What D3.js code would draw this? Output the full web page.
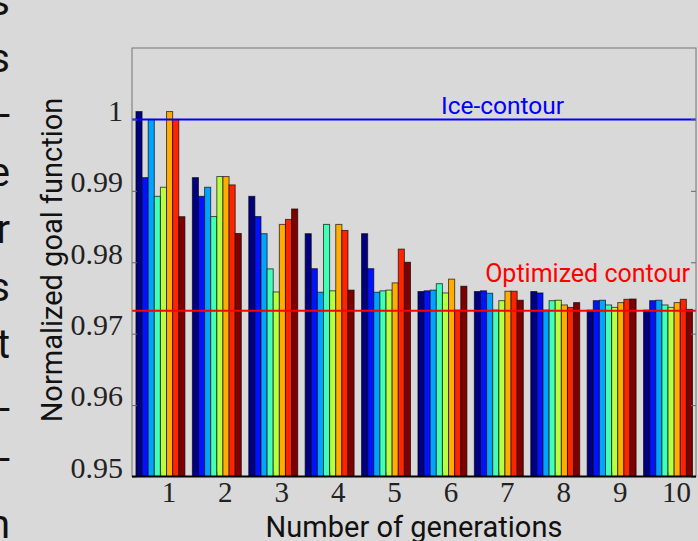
<!DOCTYPE html>
<html>
<head>
<meta charset="utf-8">
<script src="https://cdn.jsdelivr.net/npm/d3@7"></script>
<style>
    body { margin: 0; background: #d9d9d9; overflow: hidden; }
</style>
</head>
<body>
<div id="canvas"></div>
<script>
"use strict";

/* -------------------- Data -------------------- */

let generations = [1, 2, 3, 4, 5, 6, 7, 8, 9, 10];

/* one array per run, value for each generation */
let run1 = [1.0011, 0.99185, 0.98923, 0.9840, 0.9840, 0.9759, 0.9759, 0.9759, 0.9733, 0.9733];
let run2 = [0.99185, 0.98923, 0.9864, 0.9791, 0.9791, 0.9760, 0.9760, 0.9757, 0.97462, 0.97462];
let run3 = [1.0000, 0.9905, 0.9840, 0.9758, 0.9758, 0.9761, 0.97566, 0.9733, 0.97468, 0.97468];
let run4 = [0.98923, 0.9864, 0.97907, 0.9853, 0.9760, 0.9770, 0.9733, 0.97462, 0.97402, 0.97402];
let run5 = [0.9905, 0.9920, 0.97584, 0.9760, 0.9761, 0.9757, 0.97462, 0.97468, 0.97368, 0.97368];
let run6 = [1.0011, 0.9920, 0.9853, 0.9853, 0.97711, 0.97763, 0.97594, 0.97402, 0.97435, 0.97435];
let run7 = [1.0000, 0.99083, 0.9860, 0.98445, 0.98184, 0.9733, 0.97594, 0.97368, 0.97481, 0.97481];
let run8 = [0.98638, 0.98403, 0.98746, 0.9761, 0.9800, 0.97664, 0.97468, 0.97435, 0.97485, 0.9734];
let runs = [run1, run2, run3, run4, run5, run6, run7, run8];

let runColors = ["#000080", "#0012ff", "#00a4ff", "#41ffb6", "#b6ff41", "#ffad00", "#ff2400", "#800000"];

let yTicks = [0.95, 0.96, 0.97, 0.98, 0.99, 1];

let iceValue = 1.0;
let optimizedValue = 0.9732;

/* fragments of the page text to the left of the figure */
let sideLetters = ["s", "s", "-", "e", "r", "s", "t", "-", "-", "n"];
let sideBaselines = [15, 72, 128, 186, 243, 301, 358, 422, 472, 538];

/* -------------------- Layout -------------------- */

let svgWidth = 698;
let svgHeight = 541;
let plotLeft = 132;
let plotRight = 696;
let plotTop = 48;
let plotBottom = 476.5;

let barWidth = 0.1085;
let groupOffset = 0.07;

let svg = d3.select("#canvas")
    .append("svg")
    .attr("width", svgWidth)
    .attr("height", svgHeight)
    .style("display", "block");

svg.append("rect")
    .attr("width", svgWidth)
    .attr("height", svgHeight)
    .attr("fill", "#d9d9d9");

/* -------------------- Scales -------------------- */

let xScale = d3.scaleLinear()
    .domain([0, 10])
    .range([plotLeft, plotRight]);

let yScale = d3.scaleLinear()
    .domain([0.95, 1.01])
    .range([plotBottom, plotTop]);

/* -------------------- Side text -------------------- */

svg.selectAll("text.side")
    .data(sideLetters)
    .join("text")
    .attr("class", "side")
    .attr("x", 10)
    .attr("y", function (d, i) { return sideBaselines[i]; })
    .attr("text-anchor", "end")
    .attr("font-family", "Roboto, sans-serif")
    .attr("font-size", 40)
    .attr("fill", "#111")
    .text(function (d) { return d; });

/* -------------------- Bars -------------------- */

let plot = svg.append("g");

runs.forEach(function (run, k) {
    plot.selectAll("rect.run" + k)
        .data(run)
        .join("rect")
        .attr("class", "run" + k)
        .attr("x", function (d, g) {
            return xScale(g + groupOffset + k * barWidth);
        })
        .attr("y", function (d) { return yScale(d); })
        .attr("width", xScale(barWidth) - xScale(0))
        .attr("height", function (d) { return yScale(0.95) - yScale(d); })
        .attr("fill", runColors[k])
        .attr("stroke", "#000")
        .attr("stroke-opacity", 0.65)
        .attr("stroke-width", 1);
});

/* -------------------- Reference lines -------------------- */

svg.append("line")
    .attr("x1", plotLeft)
    .attr("x2", plotRight)
    .attr("y1", yScale(iceValue))
    .attr("y2", yScale(iceValue))
    .attr("stroke", "#0000ff")
    .attr("stroke-width", 2);

svg.append("line")
    .attr("x1", plotLeft)
    .attr("x2", plotRight)
    .attr("y1", yScale(optimizedValue))
    .attr("y2", yScale(optimizedValue))
    .attr("stroke", "#ff0000")
    .attr("stroke-width", 2);

svg.append("text")
    .attr("x", 441)
    .attr("y", yScale(iceValue) - 5)
    .attr("font-family", "Roboto, sans-serif")
    .attr("font-size", 24.5)
    .attr("fill", "#0000ff")
    .text("Ice-contour");

svg.append("text")
    .attr("x", 690)
    .attr("y", yScale(optimizedValue) - 29)
    .attr("text-anchor", "end")
    .attr("font-family", "Roboto, sans-serif")
    .attr("font-size", 25)
    .attr("fill", "#ff0000")
    .text("Optimized contour");

/* -------------------- Axes -------------------- */

let yAxis = d3.axisLeft(yScale)
    .tickValues(yTicks)
    .tickSize(-5)
    .tickPadding(9)
    .tickFormat(function (d) { return d === 1 ? "1" : d.toFixed(2); });

let yAxisG = svg.append("g")
    .attr("transform", "translate(" + plotLeft + ",0)")
    .call(yAxis);

yAxisG.select(".domain").remove();
yAxisG.selectAll("line").attr("stroke", "#666");
yAxisG.selectAll("text")
    .attr("dy", "0.03em")
    .attr("font-family", "'Liberation Serif', serif")
    .attr("font-size", 30)
    .attr("fill", "#222");

let yAxisRight = d3.axisRight(yScale)
    .tickValues(yTicks)
    .tickSize(-5)
    .tickFormat("");

let yAxisRightG = svg.append("g")
    .attr("transform", "translate(" + plotRight + ",0)")
    .call(yAxisRight);

yAxisRightG.select(".domain").remove();
yAxisRightG.selectAll("line").attr("stroke", "#666");

let xAxis = d3.axisBottom(xScale)
    .tickValues(generations.map(function (g) { return g - 1 + groupOffset + 4 * barWidth; }))
    .tickSize(-5)
    .tickPadding(5)
    .tickFormat(function (d, i) { return String(generations[i]); });

let xAxisG = svg.append("g")
    .attr("transform", "translate(0," + plotBottom + ")")
    .call(xAxis);

xAxisG.select(".domain").remove();
xAxisG.selectAll("line").attr("stroke", "#666").attr("stroke-opacity", 0.5);
xAxisG.selectAll("text")
    .attr("dx", 8)
    .attr("dy", "0.7em")
    .attr("font-family", "'Liberation Serif', serif")
    .attr("font-size", 29)
    .attr("fill", "#222");

/* -------------------- Frame -------------------- */

svg.append("rect")
    .attr("x", plotLeft)
    .attr("y", plotTop)
    .attr("width", plotRight - plotLeft)
    .attr("height", plotBottom - plotTop)
    .attr("fill", "none")
    .attr("stroke", "#777")
    .attr("stroke-width", 1);

svg.append("line")
    .attr("x1", plotLeft)
    .attr("x2", plotRight)
    .attr("y1", plotBottom)
    .attr("y2", plotBottom)
    .attr("stroke", "#000")
    .attr("stroke-width", 2);

/* -------------------- Axis labels -------------------- */

svg.append("text")
    .attr("x", 414)
    .attr("y", 537)
    .attr("text-anchor", "middle")
    .attr("font-family", "Roboto, sans-serif")
    .attr("font-size", 29)
    .attr("fill", "#111")
    .text("Number of generations");

svg.append("text")
    .attr("transform", "translate(62,260) rotate(-90)")
    .attr("text-anchor", "middle")
    .attr("font-family", "Roboto, sans-serif")
    .attr("font-size", 29)
    .attr("fill", "#111")
    .text("Normalized goal function");
</script>
</body>
</html>
